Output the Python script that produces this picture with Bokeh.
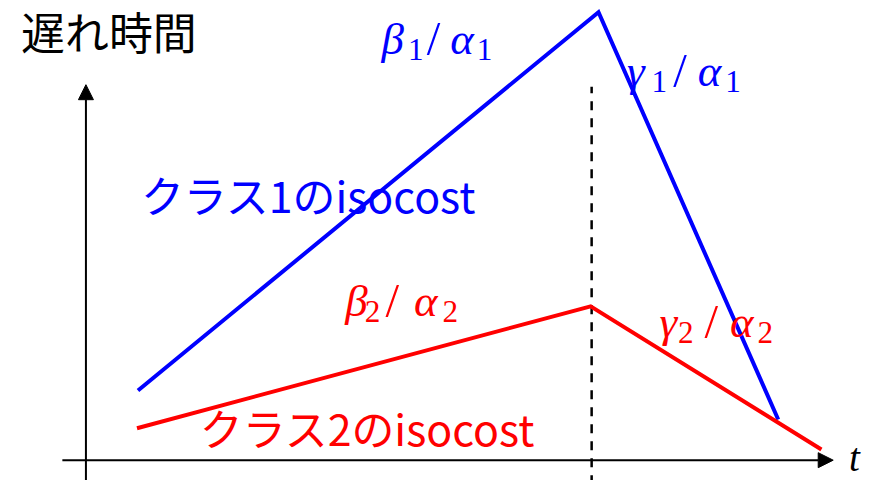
from bokeh.plotting import figure
from bokeh.models import Range1d, Arrow, NormalHead
from bokeh.embed import file_html
from bokeh.resources import INLINE
from bokeh.core.properties import value

# ---- data (time t, delay) in arbitrary units ----
t_class1 = [0.53, 5.22, 7.05]
delay_class1 = [0.72, 4.63, 0.42]
t_class2 = [0.52, 5.14, 7.49]
delay_class2 = [0.33, 1.59, 0.11]
t_switch = [5.15]

y_label = "遅れ時間"
x_label = "t"
class1_label = "クラス1のisocost"
class2_label = "クラス2のisocost"

BLUE = "#0000FF"
RED = "#FF0000"

W, H = 871, 480
FS = 0.975  # font scale

p = figure(width=W, height=H,
           x_range=Range1d(-0.87, 8.00), y_range=Range1d(-0.21, 4.75),
           output_backend="svg", toolbar_location=None, min_border=0,
           x_axis_location=None, y_axis_location=None)
p.grid.visible = False
p.outline_line_color = None
p.background_fill_color = "white"
p.border_fill_color = "white"


def px(x):
    return (x - 87) / 100.0


def py(y):
    return (475 - y) / 100.0


# axes with arrows
p.add_layout(Arrow(end=NormalHead(size=15, fill_color="black", line_color="black", line_width=1),
                   x_start=px(63), y_start=0, x_end=px(848), y_end=0,
                   line_width=2, line_color="black"))
p.add_layout(Arrow(end=NormalHead(size=15, fill_color="black", line_color="black", line_width=1),
                   x_start=0, y_start=py(500), x_end=0, y_end=py(87),
                   line_width=2, line_color="black"))

# dashed switch line
p.segment(x0=t_switch, y0=[py(500)], x1=t_switch, y1=[py(89)],
          line_dash="9 8", line_width=2.5, line_color="black")

# isocost lines
p.line(t_class1, delay_class1, line_width=4, line_color=BLUE, line_join="miter")
p.line(t_class2, delay_class2, line_width=4, line_color=RED, line_join="miter")


def txt(left, mid, s, color, size, font="Noto Sans CJK JP", style="normal"):
    p.text(x=[px(left)], y=[py(mid)], text=[s], text_color=color,
           text_font=value(font), text_font_size=f"{size * FS:.1f}px",
           text_font_style=style, text_align="left", text_baseline="middle")


def math_label(left, mid, sym1, sub, sym2, offs, color, main=46, subsz=32):
    f = "Liberation Serif"
    ms = mid + 11
    txt(left + offs[0], mid, sym1, color, main, f, "italic")
    txt(left + offs[1], ms, sub, color, subsz, f, "normal")
    txt(left + offs[2], mid, "/", color, main + 4, f, "normal")
    txt(left + offs[3], mid, sym2, color, main, f, "italic")
    txt(left + offs[4], ms, sub, color, subsz, f, "normal")


math_label(388, 40, "β", "1", "α", [0, 27, 46, 70, 97], BLUE)
math_label(638, 73, "γ", "1", "α", [0, 25, 47, 72, 100], BLUE)
math_label(351, 310, "β", "2", "α", [0, 20, 41, 70, 99], RED)
math_label(671, 332, "γ", "2", "α", [0, 19, 46, 72, 100], RED)

txt(21, 32, y_label, "black", 45)
txt(143, 200, class1_label, BLUE, 44)
txt(203, 441, class2_label, RED, 44)
txt(864, 472, x_label, "black", 40, "Liberation Serif", "italic")

open("out.html", "w").write(file_html(p, INLINE))
